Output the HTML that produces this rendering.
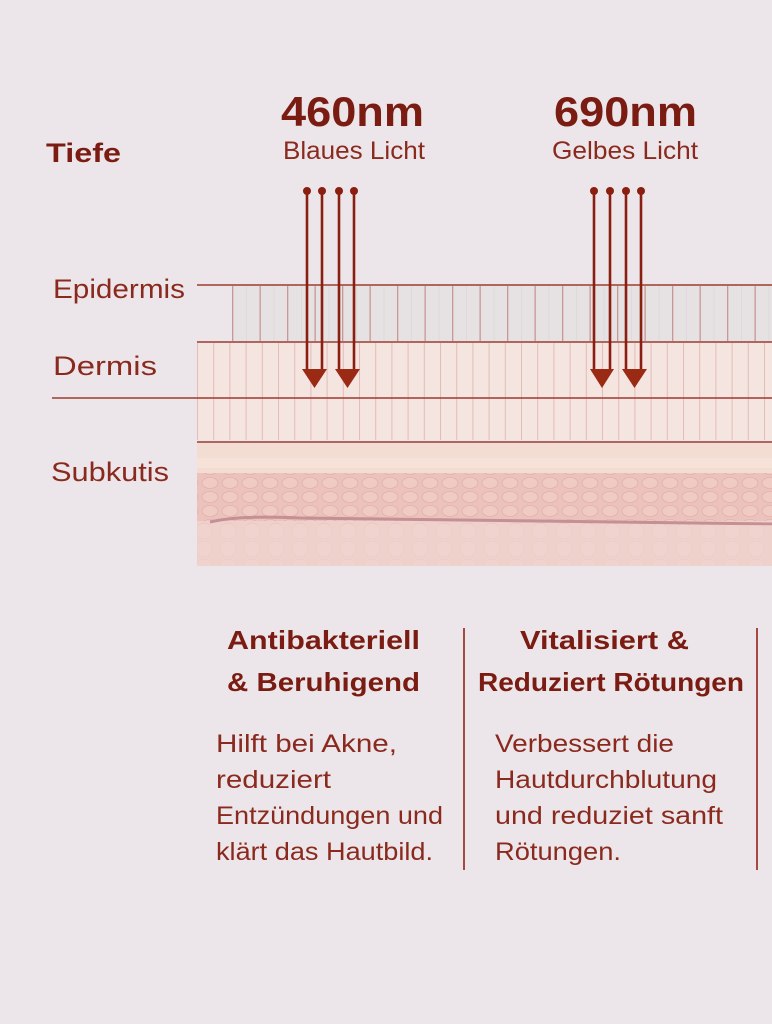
<!DOCTYPE html>
<html><head><meta charset="utf-8"><style>
html,body{margin:0;padding:0;background:#ece6ea;}
svg{display:block;}
text{font-family:"Liberation Sans",sans-serif;fill:#7a1c12;}
.b{font-weight:bold;}
.t{fill:#8a2a1e;}
</style></head><body>
<svg width="772" height="1024" viewBox="0 0 772 1024" xmlns="http://www.w3.org/2000/svg">
<defs>
<pattern id="epi" x="232" y="0" width="27.5" height="10" patternUnits="userSpaceOnUse">
<rect width="27.5" height="10" fill="#e6e1e2"/>
<rect x="14" width="1" height="10" fill="#dfd9da"/>
<rect x="0" width="1.3" height="10" fill="#c99896"/>
</pattern>
<pattern id="der" x="197" y="0" width="16.2" height="10" patternUnits="userSpaceOnUse">
<rect width="16.2" height="10" fill="#f4e5e0"/>
<rect x="0" width="1" height="10" fill="#e6bcb5"/>
</pattern>
<pattern id="cells" width="20" height="14" patternUnits="userSpaceOnUse">
<rect width="20" height="14" fill="#ebc3bc"/>
<ellipse cx="10" cy="7" rx="8" ry="5.5" fill="#efcbc4" stroke="#dfaaa3" stroke-width="0.6"/>
</pattern>
<pattern id="cells2" width="24" height="18" patternUnits="userSpaceOnUse">
<rect width="24" height="18" fill="#efd0cb"/>
<circle cx="12" cy="9" r="8" fill="#f0d3ce" stroke="#e6c0ba" stroke-width="0.5"/>
</pattern>
</defs>

<g lengthAdjust="spacingAndGlyphs">
<text class="b" x="46" y="162" font-size="27" textLength="75" lengthAdjust="spacingAndGlyphs">Tiefe</text>
<text class="b" x="281" y="126" font-size="42" textLength="143" lengthAdjust="spacingAndGlyphs">460nm</text>
<text class="t" x="283" y="159" font-size="25" textLength="142" lengthAdjust="spacingAndGlyphs">Blaues Licht</text>
<text class="b" x="554" y="126" font-size="42" textLength="143" lengthAdjust="spacingAndGlyphs">690nm</text>
<text class="t" x="552" y="159" font-size="25" textLength="146" lengthAdjust="spacingAndGlyphs">Gelbes Licht</text>
</g>

<rect x="232" y="286" width="540" height="55" fill="url(#epi)"/>
<rect x="197" y="343" width="575" height="97" fill="url(#der)"/>
<rect x="197" y="443" width="575" height="123" fill="url(#cells2)"/>
<rect x="197" y="443" width="575" height="30" fill="#f3dcd2"/>
<rect x="197" y="458" width="575" height="10" fill="#f6e4da" opacity="0.8"/>
<rect x="197" y="473" width="575" height="48" fill="url(#cells)"/>
<path d="M210 522 Q240 515 300 518 L772 524" stroke="#c48f95" stroke-width="3" fill="none"/>
<rect x="197" y="525" width="575" height="41" fill="#f0d2cd" opacity="0.5"/>

<g stroke="#9b3a2e" stroke-width="1.5">
<line x1="197" y1="285" x2="772" y2="285"/>
<line x1="197" y1="342" x2="772" y2="342"/>
<line x1="52" y1="398" x2="772" y2="398"/>
<line x1="197" y1="442" x2="772" y2="442"/>
</g>

<text class="t" x="53" y="298" font-size="27" textLength="132" lengthAdjust="spacingAndGlyphs">Epidermis</text>
<text class="t" x="53" y="375" font-size="27" textLength="104" lengthAdjust="spacingAndGlyphs">Dermis</text>
<text class="t" x="51" y="481" font-size="27" textLength="118" lengthAdjust="spacingAndGlyphs">Subkutis</text>

<g stroke="#8a1e10" stroke-width="2.6" fill="#8a1e10">
<line x1="307" y1="191" x2="307" y2="372"/><line x1="322" y1="191" x2="322" y2="372"/>
<line x1="339" y1="191" x2="339" y2="372"/><line x1="354" y1="191" x2="354" y2="372"/>
<line x1="594" y1="191" x2="594" y2="372"/><line x1="610" y1="191" x2="610" y2="372"/>
<line x1="626" y1="191" x2="626" y2="372"/><line x1="641" y1="191" x2="641" y2="372"/>
</g>
<g fill="#8a1e10">
<circle cx="307" cy="191" r="4"/><circle cx="322" cy="191" r="4"/><circle cx="339" cy="191" r="4"/><circle cx="354" cy="191" r="4"/>
<circle cx="594" cy="191" r="4"/><circle cx="610" cy="191" r="4"/><circle cx="626" cy="191" r="4"/><circle cx="641" cy="191" r="4"/>
</g>
<g fill="#9a2a14">
<polygon points="302,369 327,369 314.5,388"/>
<polygon points="335,369 360,369 347.5,388"/>
<polygon points="590,369 614,369 602,388"/>
<polygon points="622,369 647,369 634.5,388"/>
</g>

<line x1="464" y1="628" x2="464" y2="870" stroke="#a44a40" stroke-width="2"/>
<line x1="757" y1="628" x2="757" y2="870" stroke="#a44a40" stroke-width="2"/>

<text class="b" x="227" y="649" font-size="26" textLength="193" lengthAdjust="spacingAndGlyphs">Antibakteriell</text>
<text class="b" x="227" y="691" font-size="26" textLength="193" lengthAdjust="spacingAndGlyphs">&amp; Beruhigend</text>
<text class="b" x="520" y="649" font-size="26" textLength="169" lengthAdjust="spacingAndGlyphs">Vitalisiert &amp;</text>
<text class="b" x="478" y="691" font-size="26" textLength="266" lengthAdjust="spacingAndGlyphs">Reduziert Rötungen</text>

<g font-size="25">
<text class="t" x="216" y="752" textLength="181" lengthAdjust="spacingAndGlyphs">Hilft bei Akne,</text>
<text class="t" x="216" y="788" textLength="115" lengthAdjust="spacingAndGlyphs">reduziert</text>
<text class="t" x="216" y="824" textLength="227" lengthAdjust="spacingAndGlyphs">Entzündungen und</text>
<text class="t" x="216" y="860" textLength="217" lengthAdjust="spacingAndGlyphs">klärt das Hautbild.</text>
<text class="t" x="495" y="752" textLength="179" lengthAdjust="spacingAndGlyphs">Verbessert die</text>
<text class="t" x="495" y="788" textLength="222" lengthAdjust="spacingAndGlyphs">Hautdurchblutung</text>
<text class="t" x="495" y="824" textLength="228" lengthAdjust="spacingAndGlyphs">und reduziet sanft</text>
<text class="t" x="495" y="860" textLength="126" lengthAdjust="spacingAndGlyphs">Rötungen.</text>
</g>
</svg>
</body></html>
